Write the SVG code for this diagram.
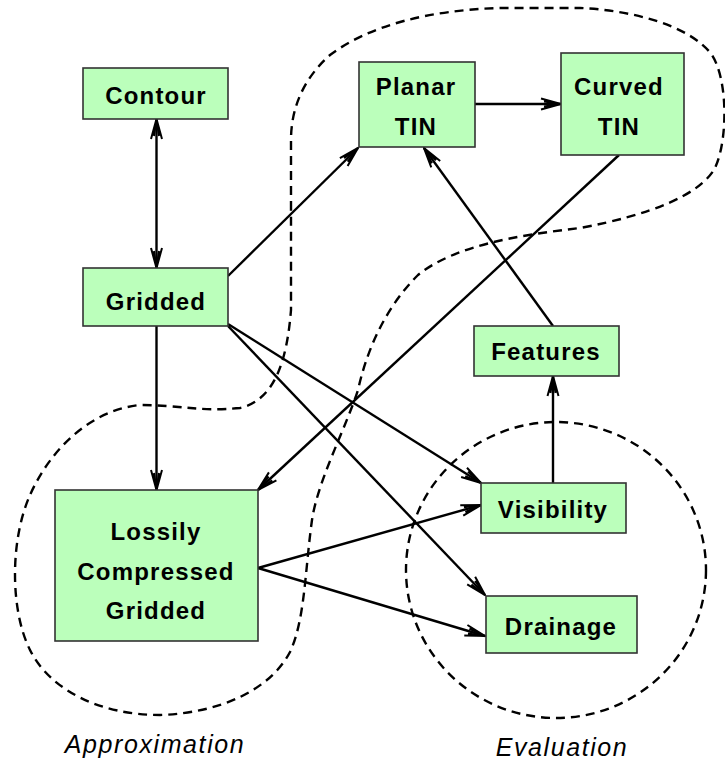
<svg xmlns="http://www.w3.org/2000/svg" width="725" height="761" viewBox="0 0 725 761">
<style>
.box{fill:#bbffbb;stroke:#333;stroke-width:1.6}
.lbl{font-family:"Liberation Sans",Arial,sans-serif;font-weight:bold;font-size:24px;letter-spacing:1.2px;text-anchor:middle;fill:#000}
.reg{font-family:"Liberation Sans",Arial,sans-serif;font-style:italic;font-size:25px;letter-spacing:1.6px;text-anchor:middle;fill:#000}
.e{fill:none;stroke:#000;stroke-width:2.4}
.d{fill:none;stroke:#000;stroke-width:2.4;stroke-dasharray:9 6}
</style>
<defs>
<marker id="ah" viewBox="0 0 22 14" refX="21" refY="7" markerWidth="22" markerHeight="14" markerUnits="userSpaceOnUse" orient="auto-start-reverse">
<path d="M1,1.5 L21,7 L1,12.5 M4,4.5 L21,7 L4,9.5" fill="none" stroke="#000" stroke-width="2"/>
</marker>
</defs>
<g id="regions">
<path class="d" d="M291,210 L291,140 C291,110 302,80 330,55 C370,25 430,10 500,8 L580,8 C630,10 690,25 712,55 C728,80 728,140 715,168 C700,195 650,215 580,228 C520,235 455,245 418,275 C388,305 368,345 358,390 C345,430 318,480 312,520 C305,570 305,620 290,652 C270,690 220,713 160,715 C100,715 50,690 30,650 C10,610 10,540 30,495 C50,450 90,410 140,405 C180,405 200,412 240,408 C275,400 287,360 291,310 Z"/>
<ellipse class="d" cx="556" cy="570" rx="150" ry="148"/>
</g>
<g id="connectors">
<line class="e" x1="156.5" y1="119" x2="156.5" y2="268" marker-start="url(#ah)" marker-end="url(#ah)"/>
<line class="e" x1="156.5" y1="326" x2="156.5" y2="490" marker-end="url(#ah)"/>
<line class="e" x1="228" y1="276" x2="358" y2="148" marker-end="url(#ah)"/>
<line class="e" x1="475" y1="104" x2="561" y2="104" marker-end="url(#ah)"/>
<line class="e" x1="619" y1="155" x2="258" y2="490" marker-end="url(#ah)"/>
<line class="e" x1="553" y1="326" x2="424" y2="148" marker-end="url(#ah)"/>
<line class="e" x1="553" y1="483" x2="553" y2="376" marker-end="url(#ah)"/>
<line class="e" x1="228" y1="324" x2="481" y2="483" marker-end="url(#ah)"/>
<line class="e" x1="228" y1="326" x2="485" y2="595" marker-end="url(#ah)"/>
<line class="e" x1="258" y1="568" x2="481" y2="505" marker-end="url(#ah)"/>
<line class="e" x1="258" y1="568" x2="485" y2="636" marker-end="url(#ah)"/>
</g>
<g id="contour"><rect class="box" x="83" y="68" width="145" height="51"/><text class="lbl" x="156" y="104">Contour</text></g>
<g id="gridded"><rect class="box" x="83" y="268" width="145" height="58"/><text class="lbl" x="156" y="310">Gridded</text></g>
<g id="planar-tin"><rect class="box" x="359" y="62" width="116" height="85"/><text class="lbl" x="416" y="95">Planar</text><text class="lbl" x="416" y="135">TIN</text></g>
<g id="curved-tin"><rect class="box" x="561" y="53" width="123" height="102"/><text class="lbl" x="619" y="95">Curved</text><text class="lbl" x="619" y="135">TIN</text></g>
<g id="lossily"><rect class="box" x="55" y="490" width="203" height="151"/><text class="lbl" x="156" y="540">Lossily</text><text class="lbl" x="156" y="580">Compressed</text><text class="lbl" x="156" y="619">Gridded</text></g>
<g id="features"><rect class="box" x="474" y="326" width="145" height="50"/><text class="lbl" x="546" y="360">Features</text></g>
<g id="visibility"><rect class="box" x="481" y="483" width="145" height="50"/><text class="lbl" x="553" y="518">Visibility</text></g>
<g id="drainage"><rect class="box" x="486" y="596" width="151" height="57"/><text class="lbl" x="561" y="635">Drainage</text></g>
<g id="labels"><text class="reg" x="155" y="753">Approximation</text><text class="reg" x="562" y="756">Evaluation</text></g>
</svg>
